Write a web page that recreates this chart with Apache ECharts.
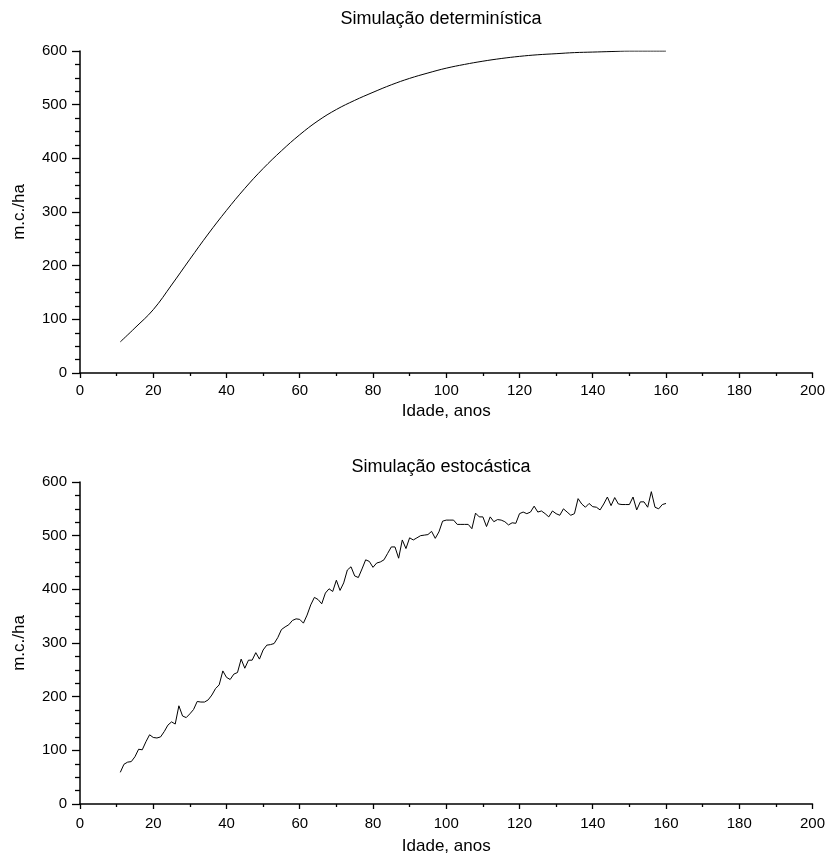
<!DOCTYPE html>
<html>
<head>
<meta charset="utf-8">
<script src="https://cdn.jsdelivr.net/npm/echarts@6/dist/echarts.min.js"></script>
<style>
  html, body { margin: 0; padding: 0; background: #fff; }
  #chart { width: 828px; height: 858px; }
</style>
</head>
<body>
<div id="chart"></div>
<script>
// Stand volume (m.c./ha) against stand age (years)

// Deterministic growth curve, sampled every 5 years
const detAges = [11, 15, 20, 25, 30, 35, 40, 45, 50, 55, 60, 65, 70, 75, 80, 85, 90, 95,
  100, 105, 110, 115, 120, 125, 130, 135, 140, 145, 150, 155, 160];
const detVolume = [58, 84, 118, 164, 212, 259, 303, 344, 381, 414, 444, 470, 491, 508, 523, 537, 549, 559,
  568, 575, 581, 586, 590, 593, 595, 597, 598, 599, 600, 600, 600];

// Stochastic simulation, one value per year from age 11 to 160
const stoStartAge = 11;
const stoVolume = [
  59, 74, 78, 79, 88, 102, 101, 116, 129, 124,          // 11-20
  123, 125, 135, 147, 153, 149, 183, 164, 161, 168,     // 21-30
  176, 191, 190, 190, 194, 203, 215, 222, 248, 236,     // 31-40
  232, 242, 245, 270, 253, 268, 268, 282, 270, 287,     // 41-50
  296, 297, 299, 310, 325, 330, 334, 342, 345, 344,     // 51-60
  337, 352, 371, 385, 381, 373, 393, 401, 396, 417,     // 61-70
  398, 412, 436, 442, 425, 422, 438, 455, 452, 441,     // 71-80
  449, 451, 455, 467, 479, 479, 458, 492, 476, 496,     // 81-90
  492, 496, 500, 501, 502, 508, 495, 507, 527, 529,     // 91-100
  529, 529, 521, 521, 521, 521, 513, 542, 535, 535,     // 101-110
  517, 535, 526, 530, 529, 526, 520, 524, 523, 541,     // 111-120
  544, 541, 544, 555, 544, 546, 541, 535, 546, 541,     // 121-130
  538, 550, 544, 538, 541, 569, 559, 553, 560, 554,     // 131-140
  553, 548, 559, 572, 556, 571, 559, 558, 558, 558,     // 141-150
  572, 548, 563, 563, 553, 582, 553, 550, 558, 560      // 151-160
];

const titles = ['Simulação determinística', 'Simulação estocástica'];
const xName = 'Idade, anos';
const yName = 'm.c./ha';
const xTicks = { min: 0, max: 200, interval: 20 };
const yTicks = { min: 0, max: 600, interval: 100 };

const detData = detAges.map((a, i) => [a, detVolume[i]]);
const stoData = stoVolume.map((v, i) => [stoStartAge + i, v]);

const FONT = '"Liberation Sans", Arial, sans-serif';
const INK = '#000';

function xAxis(gridIndex, labelMargin, nameGap) {
  return {
    type: 'value', gridIndex,
    min: xTicks.min, max: xTicks.max, interval: xTicks.interval,
    name: xName, nameLocation: 'middle', nameGap: nameGap,
    nameTextStyle: { color: INK, fontFamily: FONT, fontSize: 17 },
    axisLine: { show: true, onZero: false, lineStyle: { color: INK, width: 1.5 } },
    axisTick: { show: true, length: 5, lineStyle: { color: INK, width: 1.3 } },
    minorTick: { show: true, splitNumber: 2, length: 3, lineStyle: { color: INK, width: 1.3 } },
    axisLabel: { color: INK, fontFamily: FONT, fontSize: 15, margin: labelMargin },
    splitLine: { show: false }
  };
}
function yAxis(gridIndex) {
  return {
    type: 'value', gridIndex,
    min: yTicks.min, max: yTicks.max, interval: yTicks.interval,
    name: yName, nameLocation: 'middle', nameGap: 52,
    nameTextStyle: { color: INK, fontFamily: FONT, fontSize: 17 },
    axisLine: { show: true, onZero: false, lineStyle: { color: INK, width: 1.5 } },
    axisTick: { show: true, length: 8, lineStyle: { color: INK, width: 1.3 } },
    minorTick: { show: true, splitNumber: 4, length: 5, lineStyle: { color: INK, width: 1.3 } },
    axisLabel: { color: INK, fontFamily: FONT, fontSize: 15, margin: 13 },
    splitLine: { show: false }
  };
}

const chart = echarts.init(document.getElementById('chart'), null, { renderer: 'canvas' });
chart.setOption({
  backgroundColor: '#fff',
  animation: false,
  title: [
    { text: titles[0], left: 441, top: 10, textAlign: 'center', padding: 0,
      textStyle: { color: INK, fontFamily: FONT, fontSize: 18, fontWeight: 'normal' } },
    { text: titles[1], left: 441, top: 458, textAlign: 'center', padding: 0,
      textStyle: { color: INK, fontFamily: FONT, fontSize: 18, fontWeight: 'normal' } }
  ],
  grid: [
    { left: 80, right: 15, top: 51, height: 322, containLabel: false },
    { left: 80, right: 15, top: 482, height: 322, containLabel: false }
  ],
  xAxis: [xAxis(0, 10, 30), xAxis(1, 12, 34)],
  yAxis: [yAxis(0), yAxis(1)],
  series: [
    { type: 'line', xAxisIndex: 0, yAxisIndex: 0, data: detData, smooth: 0.4,
      showSymbol: false, lineStyle: { color: INK, width: 1 } },
    { type: 'line', xAxisIndex: 1, yAxisIndex: 1, data: stoData,
      showSymbol: false, lineStyle: { color: INK, width: 1 } }
  ]
});
</script>
</body>
</html>
